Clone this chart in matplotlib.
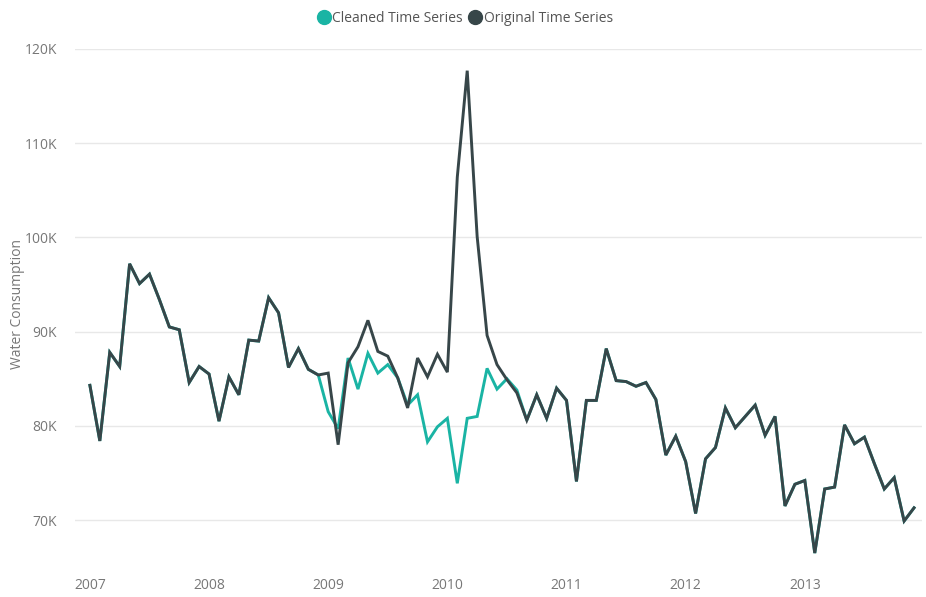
import matplotlib
matplotlib.use("Agg")
import matplotlib.pyplot as plt
from matplotlib.lines import Line2D
from matplotlib.ticker import FuncFormatter

# monthly water consumption (thousands), Jan 2007 - Dec 2013
original = [
    84.3, 78.4, 87.8, 86.3, 97.2, 95.1, 96.1, 93.4, 90.5, 90.2, 84.6, 86.3,
    85.5, 80.5, 85.2, 83.3, 89.1, 89.0, 93.6, 92.0, 86.2, 88.2, 86.0, 85.4,
    85.6, 78.0, 86.7, 88.4, 91.2, 87.9, 87.4, 85.1, 81.9, 87.2, 85.2, 87.6,
    85.7, 106.4, 117.7, 100.1, 89.6, 86.5, 84.9, 83.5, 80.6, 83.3, 80.8, 84.0,
    82.7, 74.1, 82.7, 82.7, 88.2, 84.8, 84.7, 84.2, 84.6, 82.8, 76.9, 78.9,
    76.2, 70.7, 76.5, 77.7, 81.9, 79.8, 81.0, 82.2, 79.0, 81.0, 71.5, 73.8,
    74.2, 66.5, 73.3, 73.5, 80.1, 78.1, 78.8, 76.0, 73.3, 74.5, 69.9, 71.3,
]
# cleaned series differs only between Dec 2008 and Aug 2010
cleaned_fix = {
    23: 85.4, 24: 81.5, 25: 79.7, 26: 87.2, 27: 83.9, 28: 87.7, 29: 85.6,
    30: 86.5, 31: 85.1, 32: 82.2, 33: 83.3, 34: 78.3, 35: 79.9, 36: 80.8,
    37: 73.9, 38: 80.8, 39: 81.0, 40: 86.1, 41: 83.9, 42: 85.0, 43: 83.8,
}
cleaned = [cleaned_fix.get(i, v) for i, v in enumerate(original)]

years = ["2007", "2008", "2009", "2010", "2011", "2012", "2013"]
yticks = [70, 80, 90, 100, 110, 120]

teal = "#1AB4A4"
dark = "#374649"
months = list(range(len(original)))

plt.rcParams["font.family"] = ["Open Sans", "DejaVu Sans"]

fig = plt.figure(figsize=(9.26, 5.97), dpi=100)
ax = fig.add_axes([75 / 926, 1 - 570 / 597, (922 - 75) / 926, (570 - 49) / 597])

ax.plot(months, cleaned, color=teal, lw=2.1, solid_joinstyle="miter", zorder=3)
ax.plot(months, original, color=dark, lw=2.1, solid_joinstyle="miter", zorder=4)

ax.set_xlim(-1.5, 83.8)
ax.set_ylim(64.7, 120)
ax.set_yticks(yticks)
ax.yaxis.set_major_formatter(FuncFormatter(lambda v, p: f"{int(v)}K"))
ax.set_xticks(range(0, 84, 12))
ax.set_xticklabels(years)

ax.grid(axis="y", color="#E8E8E8", lw=1)
ax.set_axisbelow(True)
for s in ax.spines.values():
    s.set_visible(False)
ax.tick_params(length=0, colors="#777777", labelsize=10)
ax.tick_params(axis="y", pad=13)
ax.tick_params(axis="x", pad=6)

ax.set_ylabel("Water Consumption", color="#777777", fontsize=10)
ax.yaxis.set_label_coords(-0.059, 0.51)

handles = [
    Line2D([], [], marker="o", ls="none", color=teal, markersize=10),
    Line2D([], [], marker="o", ls="none", color=dark, markersize=10),
]
fig.legend(handles, ["Cleaned Time Series", "Original Time Series"],
           loc="center", bbox_to_anchor=(0.502, 1 - 18 / 597), ncol=2,
           frameon=False, handletextpad=0.1, columnspacing=0.4,
           handlelength=1.0, fontsize=10, labelcolor="#555555")

fig.savefig("out.png", dpi=100)
